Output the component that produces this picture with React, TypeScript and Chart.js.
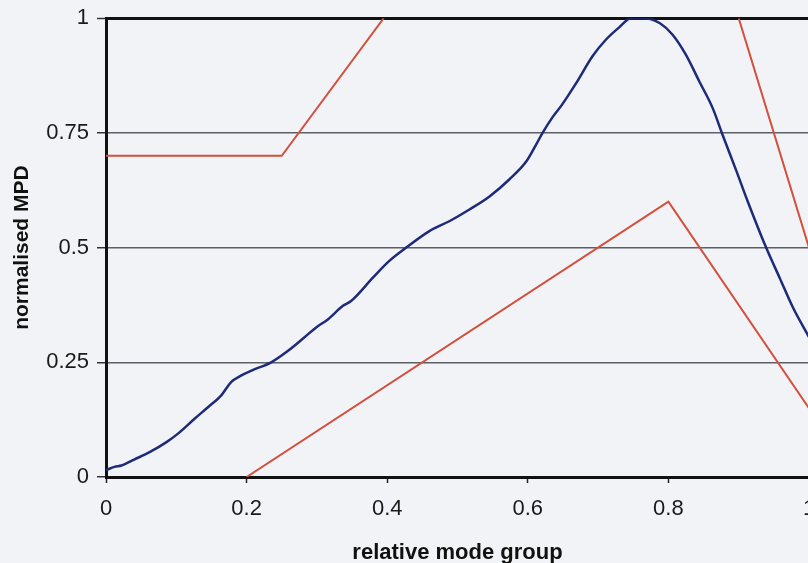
import React, { useEffect, useRef } from "react";
import { Chart, registerables } from "chart.js";

Chart.register(...registerables);

const xTickLabels = ["0", "0.2", "0.4", "0.6", "0.8", "1"];
const yTickLabels = ["0", "0.25", "0.5", "0.75", "1"];

const mpdX = [0, 0.012, 0.022, 0.04, 0.062, 0.086, 0.102, 0.126, 0.145, 0.164, 0.178, 0.192, 0.207, 0.235, 0.259, 0.282, 0.299, 0.316, 0.337, 0.349, 0.38, 0.403, 0.427, 0.46, 0.489, 0.517, 0.546, 0.574, 0.598, 0.612, 0.621, 0.636, 0.648, 0.669, 0.692, 0.711, 0.73, 0.747, 0.766, 0.788, 0.806, 0.825, 0.844, 0.863, 0.877, 0.896, 0.913, 0.939, 0.958, 0.977, 1.0];
const mpdY = [0.015, 0.022, 0.025, 0.038, 0.054, 0.076, 0.094, 0.127, 0.152, 0.178, 0.207, 0.221, 0.232, 0.25, 0.275, 0.304, 0.326, 0.344, 0.373, 0.384, 0.435, 0.471, 0.5, 0.536, 0.558, 0.583, 0.612, 0.649, 0.688, 0.725, 0.75, 0.786, 0.81, 0.859, 0.917, 0.953, 0.98, 1.0, 1.0, 0.989, 0.964, 0.92, 0.862, 0.804, 0.746, 0.67, 0.6, 0.5, 0.435, 0.37, 0.305];

const upperX = [0, 0.25, 0.395, 0.65, 0.9, 1.0];
const upperY: (number | null)[] = [0.7, 0.7, 1.0, null, 1.0, 0.5];

const lowerX = [0.2, 0.8, 1.0];
const lowerY = [0, 0.6, 0.15];

const BG = "#f2f3f7";

export default function App() {
  const ref = useRef<HTMLCanvasElement>(null);
  useEffect(() => {
    if (!ref.current) return;
    const font = "'Liberation Sans', Arial, Helvetica, sans-serif";
    const chart = new Chart(ref.current, {
      type: "line",
      data: {
        datasets: [
          {
            label: "MPD",
            data: mpdX.map((x, i) => ({ x, y: mpdY[i] })),
            borderColor: "#1e2a7a",
            borderWidth: 2.5,
            pointRadius: 0,
            cubicInterpolationMode: "monotone",
          },
          {
            label: "upper",
            data: upperX.map((x, i) => ({ x, y: upperY[i] })),
            borderColor: "#d2503c",
            borderWidth: 2,
            pointRadius: 0,
            spanGaps: false,
          },
          {
            label: "lower",
            data: lowerX.map((x, i) => ({ x, y: lowerY[i] })),
            borderColor: "#d2503c",
            borderWidth: 2,
            pointRadius: 0,
          },
        ],
      },
      options: {
        responsive: false,
        animation: false,
        layout: { padding: { top: 14, right: 31, left: 0, bottom: 0 } },
        plugins: { legend: { display: false }, tooltip: { enabled: false } },
        scales: {
          x: {
            type: "linear",
            min: 0,
            max: 1,
            afterFit: (s: any) => {
              s.height = 89;
            },
            afterBuildTicks: (s: any) => {
              s.ticks = xTickLabels.map((t) => ({ value: parseFloat(t) }));
            },
            ticks: {
              callback: (v: any, i: number) => xTickLabels[i],
              color: "#1a1a1a",
              font: { family: font, size: 22 },
              padding: 13,
              maxRotation: 0,
              autoSkip: false,
            },
            grid: {
              drawOnChartArea: false,
              drawTicks: true,
              tickLength: 6,
              tickColor: "#222",
              tickWidth: 1.5,
            },
            border: { display: true, color: "#111", width: 3 },
            title: {
              display: true,
              text: "relative mode group",
              color: "#111",
              font: { family: font, size: 22, weight: "bold" },
              padding: { top: 6, bottom: 0 },
            },
          },
          y: {
            type: "linear",
            min: 0,
            max: 1,
            afterFit: (s: any) => {
              s.width = 106;
            },
            afterBuildTicks: (s: any) => {
              s.ticks = yTickLabels.map((t) => ({ value: parseFloat(t) }));
            },
            ticks: {
              callback: (v: any, i: number) => yTickLabels[i],
              color: "#1a1a1a",
              font: { family: font, size: 22 },
              padding: 8,
            },
            grid: {
              color: (c: any) => (c.tick && c.tick.value === 1 ? "#111" : "#5c5f66"),
              lineWidth: (c: any) => (c.tick && c.tick.value === 1 ? 3 : 1.5),
              drawTicks: true,
              tickLength: 9,
              tickColor: "#333",
              tickWidth: 1.5,
            },
            border: { display: true, color: "#111", width: 3 },
            title: {
              display: true,
              text: "normalised MPD",
              color: "#111",
              font: { family: font, size: 21, weight: "bold" },
              padding: { top: 10, bottom: 0 },
            },
          },
        },
      },
    });
    return () => chart.destroy();
  }, []);
  return (
    <div
      style={{
        position: "fixed",
        left: 0,
        top: 0,
        width: 808,
        height: 563,
        overflow: "hidden",
        background: BG,
      }}
    >
      <canvas ref={ref} width={840} height={569} style={{ display: "block", marginTop: -3 }} />
    </div>
  );
}
